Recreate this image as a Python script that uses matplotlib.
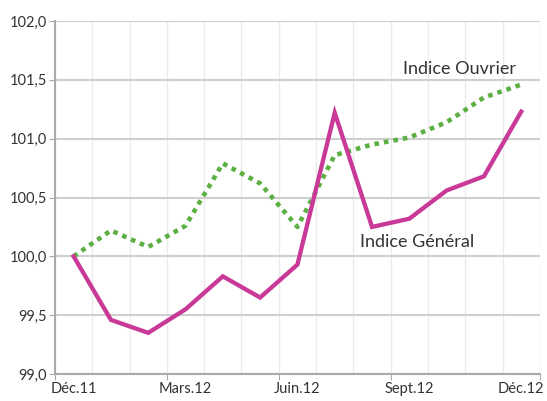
import matplotlib
matplotlib.use("Agg")
import matplotlib.pyplot as plt

## Data
months = ["Déc.11", "Janv.12", "Févr.12", "Mars.12", "Avr.12", "Mai.12", "Juin.12",
          "Juil.12", "Août.12", "Sept.12", "Oct.12", "Nov.12", "Déc.12"]
indice_general = [100.0, 99.46, 99.35, 99.55, 99.83, 99.65, 99.93,
                  101.22, 100.25, 100.32, 100.56, 100.68, 101.23]
indice_ouvrier = [100.0, 100.22, 100.08, 100.26, 100.79, 100.62, 100.25,
                  100.86, 100.95, 101.01, 101.14, 101.35, 101.46]
yticks = [99.0, 99.5, 100.0, 100.5, 101.0, 101.5, 102.0]
shown_months = [0, 3, 6, 9, 12]

plt.rcParams['font.family'] = ['Lato', 'DejaVu Sans']
fig = plt.figure(figsize=(5.47, 4.01), dpi=100)
ax = fig.add_axes([0.1005, 0.0673, 0.8865, 0.8803])

x = list(range(len(months)))

# light vertical grid at category boundaries
for b in range(len(months) + 1):
  ax.axvline(b - 0.5, color="#ebebeb", lw=1, zorder=0)
for y in yticks:
  ax.axhline(y, color="#cfcfcf", lw=1.5, zorder=0)

ax.plot(x, indice_ouvrier, color="#5cb043", lw=3.3, linestyle=(0, (1, 1.1)), zorder=3)
ax.plot(x, indice_general, color="#c93a98", lw=3.1, solid_joinstyle="miter", zorder=4)

ax.text(8.83, 101.55, "Indice Ouvrier", fontsize=13, color="#333333")
ax.text(7.68, 100.08, "Indice Général", fontsize=13, color="#333333")

ax.set_xlim(-0.5, len(months) - 0.5)
ax.set_ylim(99.0, 102.0)
ax.set_yticks(yticks)
ax.set_yticklabels([f"{v:.1f}".replace(".", ",") for v in yticks])

ax.set_xticks([i - 0.5 for i in shown_months if i < 12] + [12.5])
ax.set_xticklabels([])
ax.set_xticks(shown_months, minor=True)
ax.set_xticklabels([months[i] for i in shown_months], minor=True)
ax.tick_params(axis="x", which="major", length=4, color="#aaaaaa")
ax.tick_params(axis="x", which="minor", length=0, pad=6, labelsize=10.5, labelcolor="#333333")
ax.tick_params(axis="y", length=4, color="#aaaaaa", labelsize=10.5, labelcolor="#333333", pad=2)

for s in ["top", "right"]:
  ax.spines[s].set_visible(False)
for s in ["left", "bottom"]:
  ax.spines[s].set_color("#aaaaaa")
  ax.spines[s].set_linewidth(1.5)

fig.savefig("out.png", dpi=100)
